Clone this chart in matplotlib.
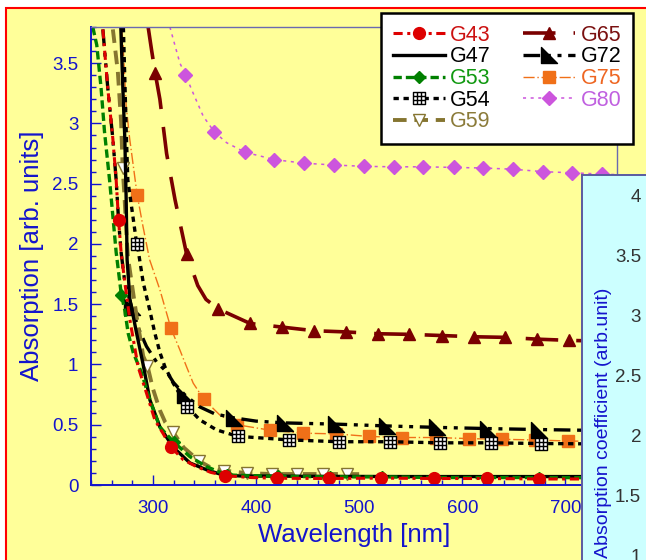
import matplotlib
matplotlib.use("Agg")
import matplotlib.pyplot as plt
from matplotlib.patches import Rectangle
from matplotlib.path import Path
from matplotlib.markers import MarkerStyle
from matplotlib.ticker import MultipleLocator

plt.rcParams['font.family'] = ['Liberation Sans', 'DejaVu Sans']

# ---------------- data (wavelength [nm], absorption [arb. units]) ----------------
g43_x = [251.5, 256.3, 261.2, 264.4, 266.7, 269.2, 272.8, 277.7, 285.7, 293.9, 301.9, 309.7, 317.5,
         329.4, 342.4, 356.0, 369.5, 395.0, 420.3, 470.3, 521.5, 572.3, 623.5, 674.3, 750.0]
g43_y = [3.78, 3.29, 2.87, 2.53, 2.20, 1.93, 1.68, 1.37, 0.98, 0.76, 0.54, 0.43, 0.315,
         0.21, 0.152, 0.105, 0.078, 0.062, 0.056, 0.054, 0.057, 0.054, 0.054, 0.050, 0.050]
g43_m = [4, 12, 16, 18, 19, 20, 21, 22, 23]

g47_x = [268.9, 270.9, 272.8, 274.1, 275.0, 277.7, 284.2, 290.3, 297.1, 306.8, 319.4, 335.9, 352.4,
         368.0, 384.5, 450.0, 550.0, 650.0, 750.0]
g47_y = [3.80, 3.29, 2.87, 2.37, 1.87, 1.54, 1.26, 1.01, 0.706, 0.482, 0.316, 0.183, 0.125,
         0.083, 0.075, 0.072, 0.070, 0.070, 0.070]

g53_x = [241.7, 245.6, 249.8, 253.1, 258.0, 261.2, 264.4, 269.4, 272.8, 276.0, 280.9, 289.0, 297.1,
         306.8, 320.3, 335.9, 352.1, 371.5, 421.5, 471.5, 522.3, 572.3, 623.5, 674.3, 750.0]
g53_y = [3.80, 3.65, 3.29, 2.93, 2.53, 2.23, 1.93, 1.58, 1.45, 1.26, 1.10, 0.93, 0.706,
         0.48, 0.356, 0.235, 0.152, 0.083, 0.072, 0.068, 0.068, 0.062, 0.062, 0.062, 0.060]
g53_m = [7, 14, 17, 18, 19, 20, 21, 22, 23]

g54_x = [271.4, 273.0, 274.1, 275.7, 280.6, 284.3, 285.7, 290.6, 297.0, 301.9, 306.8, 311.7, 319.7,
         333.5, 345.6, 361.8, 382.2, 432.2, 480.3, 529.5, 578.3, 627.5, 676.7, 750.0]
g54_y = [3.80, 3.30, 2.95, 2.53, 2.23, 2.00, 1.95, 1.68, 1.45, 1.26, 1.10, 0.98, 0.845,
         0.647, 0.54, 0.457, 0.404, 0.374, 0.359, 0.359, 0.350, 0.350, 0.344, 0.340]
g54_m = [5, 13, 16, 17, 18, 19, 20, 21, 22]

g59_x = [261.2, 266.0, 269.2, 270.7, 272.5, 274.1, 275.7, 277.7, 284.2, 290.6, 294.7, 300.0, 306.8,
         312.0, 319.4, 330.0, 344.7, 355.0, 368.6, 391.5, 415.4, 439.5, 464.7, 488.6, 500.0]
g59_y = [3.78, 3.43, 3.01, 2.63, 2.39, 2.12, 1.90, 1.78, 1.40, 1.07, 0.99, 0.80, 0.62,
         0.52, 0.44, 0.31, 0.20, 0.15, 0.12, 0.098, 0.091, 0.091, 0.091, 0.091, 0.090]
g59_m = [3, 10, 14, 16, 18, 19, 20, 21, 22, 23]

g65_x = [295.4, 298.7, 302.2, 306.8, 313.3, 321.4, 332.6, 343.5, 351.5, 363.5, 394.3, 425.4, 456.3,
         487.5, 518.3, 548.6, 580.3, 611.5, 641.5, 672.7, 703.5, 750.0]
g65_y = [3.80, 3.61, 3.42, 3.20, 2.75, 2.37, 1.92, 1.655, 1.54, 1.46, 1.34, 1.31, 1.28,
         1.27, 1.255, 1.25, 1.24, 1.23, 1.225, 1.21, 1.20, 1.19]
g65_m = [2, 6, 9, 10, 11, 12, 13, 14, 15, 16, 17, 18, 19, 20]

g72_x = [251.5, 256.3, 261.2, 264.4, 266.7, 269.2, 272.8, 279.3, 286.0, 293.8, 303.6, 313.3, 320.0,
         330.7, 345.0, 360.0, 378.6, 400.0, 428.3, 477.5, 526.7, 575.4, 625.4, 674.7, 750.0]
g72_y = [3.78, 3.29, 2.87, 2.53, 2.20, 1.93, 1.68, 1.48, 1.30, 1.15, 1.02, 0.94, 0.85,
         0.75, 0.65, 0.59, 0.557, 0.53, 0.515, 0.505, 0.49, 0.478, 0.468, 0.46, 0.45]
g72_m = [7, 13, 16, 18, 19, 20, 21, 22, 23]

g75_x = [269.6, 270.9, 274.1, 277.4, 284.7, 290.3, 296.8, 306.8, 317.5, 326.2, 332.7, 339.1, 349.5,
         365.0, 381.5, 413.5, 445.4, 477.5, 509.5, 541.5, 574.3, 606.3, 638.3, 670.3, 702.3, 750.0]
g75_y = [3.80, 3.68, 3.15, 2.88, 2.41, 2.15, 1.87, 1.62, 1.30, 1.12, 0.98, 0.845, 0.71,
         0.58, 0.50, 0.455, 0.43, 0.424, 0.403, 0.394, 0.394, 0.385, 0.379, 0.374, 0.365, 0.360]
g75_m = [4, 8, 12, 14, 15, 16, 17, 18, 19, 20, 21, 22, 23, 24]

g80_x = [316.5, 319.7, 326.2, 331.5, 339.1, 348.8, 359.5, 371.5, 389.5, 403.9, 417.5, 446.6, 475.4,
         504.3, 533.5, 562.3, 591.5, 620.4, 649.0, 677.9, 706.8, 735.5, 750.0]
g80_y = [3.80, 3.70, 3.50, 3.405, 3.25, 3.06, 2.93, 2.84, 2.76, 2.73, 2.70, 2.67, 2.655,
         2.644, 2.64, 2.64, 2.635, 2.63, 2.62, 2.60, 2.59, 2.58, 2.575]
g80_m = [3, 6, 8, 10, 11, 12, 13, 14, 15, 16, 17, 18, 19, 20, 21]

x_ticks = [300, 400, 500, 600, 700]
y_ticks = [0, 0.5, 1, 1.5, 2, 2.5, 3, 3.5]
inset_ticks = [1, 1.5, 2, 2.5, 3, 3.5, 4]

# ---------------- figure ----------------
W, H = 646, 560
fig = plt.figure(figsize=(W / 100, H / 100), dpi=100, facecolor='white')
fig.patches.append(Rectangle((6 / W, -0.1), 1.2, (H - 8) / H + 0.1, transform=fig.transFigure,
                             facecolor='#FFFF99', edgecolor='#FF0000', lw=1.5, zorder=-10))

ax = fig.add_axes([91 / W, 1 - 485 / H, (617 - 91) / W, (485 - 27) / H])
ax.set_facecolor('#FFFF99')

BLUE = '#1414CC'

# grid-square marker
gverts = [(-1, -1), (1, -1), (1, 1), (-1, 1), (-1, -1),
          (-1 / 3, -1), (-1 / 3, 1), (1 / 3, -1), (1 / 3, 1),
          (-1, -1 / 3), (1, -1 / 3), (-1, 1 / 3), (1, 1 / 3)]
gcodes = [Path.MOVETO, Path.LINETO, Path.LINETO, Path.LINETO, Path.CLOSEPOLY,
          Path.MOVETO, Path.LINETO, Path.MOVETO, Path.LINETO,
          Path.MOVETO, Path.LINETO, Path.MOVETO, Path.LINETO]
grid_marker = MarkerStyle(Path(gverts, gcodes))
flag_marker = MarkerStyle(Path([(-1, 1), (-1, -1), (1, -1), (-1, 1)],
                               [Path.MOVETO, Path.LINETO, Path.LINETO, Path.CLOSEPOLY]))

h = {}
h['G80'] = ax.plot(g80_x, g80_y, color='#CC55DD', lw=1.1, ls=(0, (2, 3)), marker='D', ms=7.5,
                   mfc='#CC55DD', mec='#CC55DD', markevery=g80_m, label='G80')[0]
h['G65'] = ax.plot(g65_x, g65_y, color='#7A0000', lw=2.6, ls=(0, (9, 5)), marker='^', ms=8.5,
                   mfc='#7A0000', mec='#7A0000', markevery=g65_m, label='G65')[0]
h['G75'] = ax.plot(g75_x, g75_y, color='#F07018', lw=1.0, ls=(0, (8, 2, 1, 2)), marker='s', ms=8.5,
                   mfc='#F07018', mec='#F07018', markevery=g75_m, label='G75')[0]
h['G72'] = ax.plot(g72_x, g72_y, color='black', lw=2.4, ls=(0, (5, 2, 1.2, 2, 1.2, 2)), marker=flag_marker,
                   ms=11, mfc='black', mec='black', markevery=g72_m, label='G72')[0]
h['G54'] = ax.plot(g54_x, g54_y, color='black', lw=2.4, ls=(0, (1.6, 1.4)), marker=grid_marker, ms=9,
                   mfc='white', mec='black', mew=1.0, markevery=g54_m, label='G54')[0]
h['G59'] = ax.plot(g59_x, g59_y, color='#857530', lw=2.8, ls=(0, (3.5, 2)), marker='v', ms=8.5,
                   mfc='white', mec='#857530', mew=1.0, markevery=g59_m, label='G59')[0]
h['G47'] = ax.plot(g47_x, g47_y, color='black', lw=2.4, ls='-', label='G47')[0]
h['G53'] = ax.plot(g53_x, g53_y, color='#008000', lw=2.4, ls=(0, (2.5, 1.2)), marker='D', ms=6.5,
                   mfc='#008000', mec='#008000', markevery=g53_m, label='G53')[0]
h['G43'] = ax.plot(g43_x, g43_y, color='#DD0000', lw=2.2, ls=(0, (3, 1.5, 1, 1.5)), marker='o', ms=8.5,
                   mfc='#DD0000', mec='#DD0000', markevery=g43_m, label='G43')[0]

ax.set_xlim(240, 750)
ax.set_ylim(0, 3.8)
ax.set_xticks(x_ticks)
ax.set_yticks(y_ticks)
ax.set_yticklabels(['0', '0.5', '1', '1.5', '2', '2.5', '3', '3.5'])
ax.xaxis.set_minor_locator(MultipleLocator(20))
ax.yaxis.set_minor_locator(MultipleLocator(0.1))
ax.tick_params(which='both', direction='in', color=BLUE, width=1.0, labelcolor=BLUE, labelsize=13.5)
ax.tick_params(which='major', length=7)
ax.tick_params(which='minor', length=3.5)
ax.tick_params(axis='y', pad=9)
ax.tick_params(axis='x', pad=11)
for s in ['left', 'bottom']:
    ax.spines[s].set_color(BLUE)
    ax.spines[s].set_linewidth(1.4)
for s in ['top', 'right']:
    ax.spines[s].set_color('#6A6AB0')
    ax.spines[s].set_linewidth(1.0)
ax.set_xlabel('Wavelength [nm]', fontsize=18.5, color=BLUE, labelpad=4)
ax.set_ylabel('Absorption [arb. units]', fontsize=18.5, color=BLUE, labelpad=6)

# legend
order = ['G43', 'G47', 'G53', 'G54', 'G59', 'G65', 'G72', 'G75', 'G80']
tcolors = {'G43': '#CC1111', 'G47': 'black', 'G53': '#119911', 'G54': 'black', 'G59': '#8B7B3A',
           'G65': '#7A1010', 'G72': 'black', 'G75': '#EE6622', 'G80': '#C060E0'}
leg = fig.legend([h[k] for k in order], order, loc='upper right',
                 bbox_to_anchor=(633 / W, 1 - 13 / H), ncol=2, fontsize=15.5, numpoints=1,
                 frameon=True, fancybox=False, framealpha=1, edgecolor='black',
                 borderaxespad=0, handlelength=2.4, handletextpad=0.25, columnspacing=1.5,
                 labelspacing=0.03, borderpad=0.55)
leg.get_frame().set_linewidth(1.8)
for t in leg.get_texts():
    t.set_color(tcolors[t.get_text()])

# inset panel (partially visible)
ax2 = fig.add_axes([582 / W, -20 / H, 0.2, (560 - 175 + 20) / H])
ax2.set_facecolor('#CCFFFF')
ax2.set_xlim(0, 1)
ax2.set_ylim(4 - (580 - 195) / 120, 4 + 20 / 120)
ax2.set_xticks([])
ax2.set_yticks(inset_ticks)
ax2.set_yticklabels(['1', '1.5', '2', '2.5', '3', '3.5', '4'])
ax2.tick_params(axis='y', direction='in', length=0, pad=-42.5, labelcolor='#333333', labelsize=13.5)
for s in ['left', 'top']:
    ax2.spines[s].set_color('#5A5AA0')
    ax2.spines[s].set_linewidth(1.4)
for s in ['right', 'bottom']:
    ax2.spines[s].set_visible(False)
fig.text(603 / W, 2 / H, 'Absorption coefficient (arb.unit)', rotation=90, ha='center', va='bottom',
         color=BLUE, fontsize=14)

fig.savefig('out.png', dpi=100, facecolor=fig.get_facecolor())
